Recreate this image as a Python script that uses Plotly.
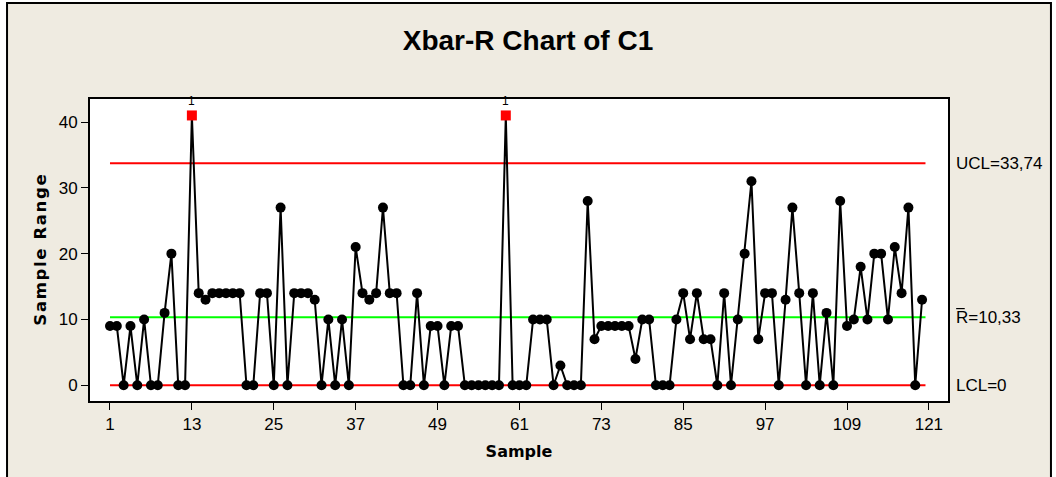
import plotly.graph_objects as go

samples = list(range(1, 121))
ranges = [9, 9, 0, 9, 0, 10, 0, 0, 11, 20,
          0, 0, 41, 14, 13, 14, 14, 14, 14, 14,
          0, 0, 14, 14, 0, 27, 0, 14, 14, 14,
          13, 0, 10, 0, 10, 0, 21, 14, 13, 14,
          27, 14, 14, 0, 0, 14, 0, 9, 9, 0,
          9, 9, 0, 0, 0, 0, 0, 0, 41, 0,
          0, 0, 10, 10, 10, 0, 3, 0, 0, 0,
          28, 7, 9, 9, 9, 9, 9, 4, 10, 10,
          0, 0, 0, 10, 14, 7, 14, 7, 7, 0,
          14, 0, 10, 20, 31, 7, 14, 14, 0, 13,
          27, 14, 0, 14, 0, 11, 0, 28, 9, 10,
          18, 10, 20, 20, 10, 21, 14, 27, 0, 13]
UCL = 33.74
RBAR = 10.33
LCL = 0.0
x_ticks = [1, 13, 25, 37, 49, 61, 73, 85, 97, 109, 121]
y_ticks = [0, 10, 20, 30, 40]

BG = "#EFEBE1"
NARROW = "Liberation Sans Narrow, Arial Narrow, sans-serif"
BOLDF = "DejaVu Sans, Verdana, sans-serif"

out = [v > UCL for v in ranges]
colors = ["#FF0000" if o else "#000000" for o in out]
symbols = ["square" if o else "circle" for o in out]

fig = go.Figure()
line_x = [1, 120.5]
fig.add_trace(go.Scatter(x=line_x, y=[UCL, UCL], mode="lines",
                         line=dict(color="#FF0000", width=2), hoverinfo="skip"))
fig.add_trace(go.Scatter(x=line_x, y=[RBAR, RBAR], mode="lines",
                         line=dict(color="#00FF00", width=2), hoverinfo="skip"))
fig.add_trace(go.Scatter(x=line_x, y=[LCL, LCL], mode="lines",
                         line=dict(color="#FF0000", width=2), hoverinfo="skip"))
fig.add_trace(go.Scatter(x=samples, y=ranges, mode="lines+markers",
                         line=dict(color="#000000", width=2),
                         marker=dict(color=colors, symbol=symbols, size=10, opacity=1,
                                     line=dict(width=0))))

for s, v, o in zip(samples, ranges, out):
    if o:
        fig.add_annotation(x=s, y=v, text="1", showarrow=False, yshift=14,
                           font=dict(family=NARROW, size=12, color="black"))

label_font = dict(family=NARROW, size=17, color="black")
fig.add_annotation(xref="paper", x=1.0, xshift=6, y=UCL, text="UCL=33,74",
                   showarrow=False, xanchor="left", font=label_font)
fig.add_annotation(xref="paper", x=1.0, xshift=6, y=RBAR, text="R=10,33",
                   showarrow=False, xanchor="left", font=label_font)
fig.add_annotation(xref="paper", x=1.0, xshift=6, y=LCL, text="LCL=0",
                   showarrow=False, xanchor="left", font=label_font)

fig.update_layout(
    width=1056, height=477,
    margin=dict(l=90, r=108, t=99, b=76, autoexpand=False),
    paper_bgcolor="white", plot_bgcolor="white",
    showlegend=False,
    title=dict(text="<b>Xbar-R Chart of C1</b>", x=0.5, xanchor="center",
               y=0.916, yanchor="middle",
               font=dict(family=NARROW, size=28, color="black")),
    shapes=[
        dict(type="rect", xref="paper", yref="paper", x0=-0.0967, x1=1.120,
             y0=-0.3, y1=1.318, line=dict(color="black", width=2),
             fillcolor=BG, layer="below"),
        dict(type="rect", xref="paper", yref="paper", x0=0, x1=1,
             y0=0, y1=1, line=dict(width=0),
             fillcolor="white", layer="below"),
        dict(type="line", xref="paper", yref="paper", x0=1.0095, x1=1.0195,
             y0=0.306, y1=0.306, line=dict(color="black", width=1.2)),
    ],
)
fig.update_xaxes(range=[-1.93, 123.8], tickvals=x_ticks, ticks="outside", ticklen=7,
                 tickwidth=1, tickcolor="black", showgrid=False, zeroline=False,
                 showline=True, linecolor="black", linewidth=2, mirror=True,
                 automargin=False,
                 tickfont=dict(family=NARROW, size=17, color="black"),
                 title=dict(text="<b>Sample</b>", standoff=12,
                            font=dict(family=BOLDF, size=16, color="black")))
fig.update_yaxes(range=[-2.39, 43.5], tickvals=y_ticks, ticks="outside", ticklen=7,
                 tickwidth=1, tickcolor="black", showgrid=False, zeroline=False,
                 showline=True, linecolor="black", linewidth=2, mirror=True,
                 automargin=False,
                 tickfont=dict(family=NARROW, size=17, color="black"),
                 title=dict(text="<b>S\u200aa\u200am\u200ap\u200al\u200ae\u2009 R\u200aa\u200an\u200ag\u200ae</b>",
                            standoff=8,
                            font=dict(family=BOLDF, size=16.5, color="black")))

fig.write_html("out.html", config={"displayModeBar": False},
               post_script="document.body.style.margin='0';document.body.style.padding='0';")
